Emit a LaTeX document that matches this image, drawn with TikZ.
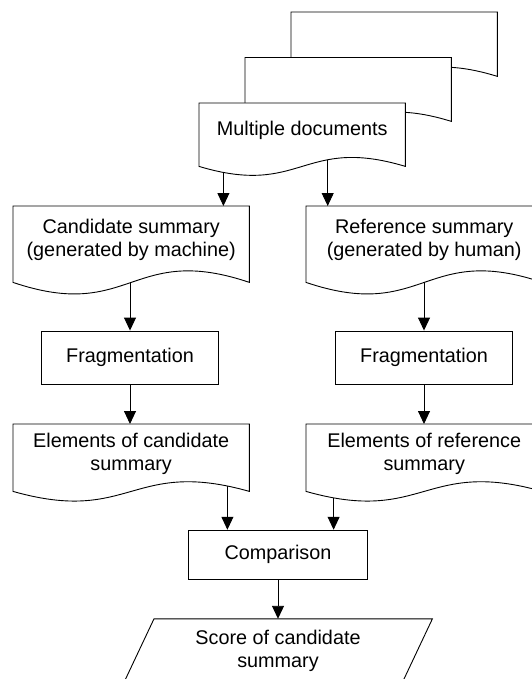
\documentclass[tikz,border=0pt]{standalone}
\usepackage{fontspec}
\setmainfont{Liberation Sans}
\usetikzlibrary{arrows.meta,calc}

\pgfdeclarelayer{wires}
\pgfdeclarelayer{sheets}
\pgfsetlayers{wires,sheets,main}

\newcommand\diagfont{\fontsize{19.8pt}{23pt}\selectfont}

% Document outline around a node: flat top, wavy bottom 8pt below the node.
% #1 = node name, #2 = control offset of the wave
\newcommand\sheetoutline[2]{%
  \begin{pgfonlayer}{sheets}
    \draw[sheet] (#1.north west) -- (#1.north east)
      -- ($(#1.south east)+(0,8)$)
      .. controls ($(#1.south)+(0,8-#2)$) and ($(#1.south)+(0,8+#2)$)
      .. ($(#1.south west)+(0,8)$) -- cycle;
  \end{pgfonlayer}}

\begin{document}
\begin{tikzpicture}[
  x=1pt, y=-1pt,
  every node/.style={font=\diagfont, text=black},
  docbody/.style={rectangle, inner sep=0pt, align=center, anchor=north west},
  stepbox/.style={rectangle, draw=black, fill=white, line width=0.9pt,
    inner sep=0pt, minimum width=177pt, minimum height=53pt},
  sheet/.style={draw=black, fill=white, line width=0.9pt, line join=miter},
  arr/.style={draw=black, line width=0.9pt, -{Triangle[length=13pt,width=12pt]}},
]
\useasboundingbox (0,0) rectangle (531,679);

% stack of source documents
\node[docbody, minimum width=206pt, minimum height=56pt] (doc3) at (291,12) {};
\sheetoutline{doc3}{32}
\node[docbody, minimum width=206pt, minimum height=55.5pt] (doc2) at (245,57.5) {};
\sheetoutline{doc2}{32}
\node[docbody, minimum width=206pt, minimum height=55pt] (multi) at (199,103) {Multiple documents};
\sheetoutline{multi}{31}

% summaries
\node[docbody, minimum width=236pt, minimum height=68pt] (cand) at (13,206)
  {Candidate summary\\(generated by machine)};
\sheetoutline{cand}{40}
\node[docbody, minimum width=236pt, minimum height=68pt] (refs) at (306,206)
  {Reference summary\\(generated by human)};
\sheetoutline{refs}{40}

% fragmentation steps
\node[stepbox] (fragL) at (130,357.5) {Fragmentation};
\node[stepbox] (fragR) at (424,357.5) {Fragmentation};

% elements
\node[docbody, minimum width=236pt, minimum height=59pt] (elemc) at (13,424)
  {Elements of candidate\\summary};
\sheetoutline{elemc}{33.5}
\node[docbody, minimum width=236pt, minimum height=59pt] (elemr) at (306,424)
  {Elements of reference\\summary};
\sheetoutline{elemr}{33.5}

% comparison and score
\node[stepbox, minimum width=179pt, minimum height=49pt] (comp) at (278,554.7) {Comparison};
\node[rectangle, inner sep=0pt, minimum width=278pt, minimum height=64pt, align=center]
  (score) at (278,651) {Score of candidate\\summary};
\begin{pgfonlayer}{sheets}
  \draw[sheet] ($(score.north west)+(15.2,0)$) -- ($(score.north east)+(15.2,0)$)
    -- ($(score.south east)+(-15.2,0)$) -- ($(score.south west)+(-15.2,0)$) -- cycle;
\end{pgfonlayer}

% connectors (behind the sheets, so they start at the wavy edges)
\begin{pgfonlayer}{wires}
  \path ($(cand.north east)+(-26,0)$) coordinate (m1)
        ($(refs.north west)+(21.7,0)$) coordinate (m2);
  \draw[arr] (m1 |- multi.center) -- (m1);
  \draw[arr] (m2 |- multi.center) -- (m2);
  \draw[arr] (cand.center -| fragL.north) -- (fragL.north);
  \draw[arr] (refs.center -| fragR.north) -- (fragR.north);
  \draw[arr] (fragL.south) -- (fragL.south |- elemc.north);
  \draw[arr] (fragR.south) -- (fragR.south |- elemr.north);
  \path ($(elemc.north east)+(-22,0)$) coordinate (e1)
        ($(elemr.north west)+(27.6,0)$) coordinate (e2);
  \draw[arr] (e1) -- (e1 |- comp.north);
  \draw[arr] (e2) -- (e2 |- comp.north);
  \draw[arr] (comp.south) -- (score.north);
\end{pgfonlayer}
\end{tikzpicture}
\end{document}
